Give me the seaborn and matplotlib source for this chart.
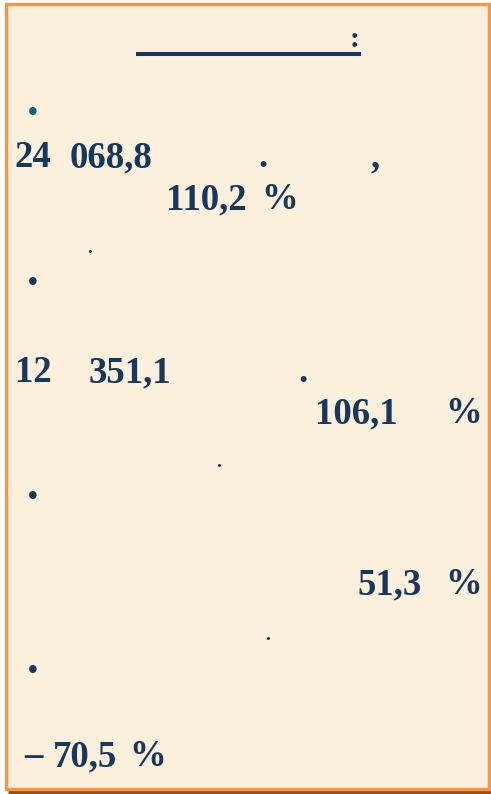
import matplotlib
matplotlib.use("Agg")
import matplotlib.pyplot as plt
from matplotlib.patches import Rectangle
import seaborn as sns

# text fragments visible on the slide
big_texts = ["24", "068,8", ".", ",", "110,2", "%",
             "12", "351,1", ".", "106,1", "%",
             "51,3", "%",
             "–", "70,5", "%"]
small_dots = [".", ".", "."]
bullet_chars = ["•", "•", "•", "•"]
title_colon = ":"

# layout in pixel coordinates (x left, y baseline)
big_pos = [(15, 167), (70, 167), (258, 167), (371, 167), (166, 209), (261, 209),
           (15, 382), (89, 382), (298, 382), (315, 423), (445, 423),
           (357, 594), (445, 594),
           (24, 766), (53, 766), (129, 766)]
dot_pos = [(87, 253), (216, 467), (265, 640)]
bullet_pos = [(33, 114), (33, 284), (33, 498), (33, 672)]
bullet_colors = ["#0D6284", "#17375E", "#17375E", "#17375E"]

navy = "#17375E"
W, H = 491, 794

sns.set_style("white")
fig = plt.figure(figsize=(W / 100, H / 100), dpi=100)
fig.patch.set_facecolor("white")
ax = fig.add_axes([0, 0, 1, 1])
ax.set_xlim(0, W)
ax.set_ylim(H, 0)
ax.axis("off")

# slide panel with orange frame and dark shadow at the bottom
ax.add_patch(Rectangle((6, 4), 483, 785, facecolor="#FAF0DB",
                       edgecolor="#F79646", lw=2.4, zorder=1))
ax.hlines(792, 8, W, color="#9C4F0E", lw=2.2, zorder=0)

# title underline and colon
ax.hlines(53.5, 136, 361, color=navy, lw=2.9, zorder=3)
ax.text(350, 47, title_colon, fontsize=21, fontweight="bold",
        family="Liberation Serif", color=navy, va="baseline", ha="left")

for t, (x, y) in zip(big_texts, big_pos):
    ax.text(x, y, t, fontsize=26.5, fontweight="bold", family="Liberation Serif",
            color=navy, va="baseline", ha="left", zorder=4)

for t, (x, y) in zip(small_dots, dot_pos):
    ax.text(x, y, t, fontsize=14, fontweight="bold", family="Liberation Serif",
            color=navy, va="baseline", ha="left", zorder=4)

for t, (x, y), c in zip(bullet_chars, bullet_pos, bullet_colors):
    ax.text(x, y + 6, t, fontsize=20, family="Liberation Sans",
            color=c, va="baseline", ha="center", zorder=4)

fig.savefig("out.png", dpi=100)
